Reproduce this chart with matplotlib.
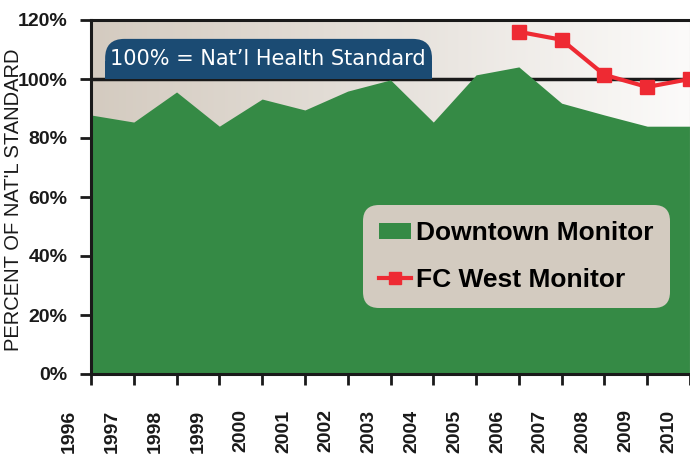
import numpy as np
import matplotlib.pyplot as plt
from matplotlib.patches import Patch, FancyBboxPatch, Rectangle
from matplotlib.lines import Line2D
from matplotlib.colors import LinearSegmentedColormap

# Data (percent of national health standard)
years = [str(y) for y in range(1996, 2011)]
downtown = [87.8, 85.4, 95.6, 84.0, 93.2, 89.5, 95.9, 99.7, 85.4, 101.4,
            104.1, 91.8, 87.8, 84.0, 84.0]
west_years_idx = [10, 11, 12, 13, 14]
west = [116.0, 113.3, 101.4, 97.3, 100.0]
y_ticks = [0, 20, 40, 60, 80, 100, 120]

green = "#358a45"
red = "#ee2a33"
dark = "#1a1a1a"
navy = "#1b4b73"

fig = plt.figure(figsize=(6.9, 4.54), dpi=100)
ax = fig.add_axes([91 / 690, 1 - 374 / 454, 1 - 91 / 690, (374 - 20) / 454])

x = np.arange(len(downtown))

# gradient background, beige on the left fading to white
grad = np.linspace(0, 1, 256).reshape(1, -1)
cmap = LinearSegmentedColormap.from_list("bg", ["#d4cbc0", "#e6e1db", "#fcfbfa"])
ax.imshow(grad, cmap=cmap, aspect="auto", extent=[0, 14, 0, 120], zorder=0)

ax.axhline(100, color=dark, lw=2.5, zorder=1)
ax.fill_between(x, downtown, 0, color=green, lw=0, zorder=2)
ax.plot(west_years_idx, west, color=red, lw=3, marker="s", ms=10,
        mec=red, zorder=4, clip_on=False)

ax.set_xlim(0, 14)
ax.set_ylim(0, 120)

for side in ["left", "bottom", "top"]:
    ax.spines[side].set_linewidth(2.2)
    ax.spines[side].set_color(dark)
ax.spines["right"].set_linewidth(0.8)
ax.spines["right"].set_color("#bbbbbb")

ax.set_yticks(y_ticks)
ax.set_yticklabels([f"{v}%" for v in y_ticks], fontsize=14, fontweight="bold",
                   family="Liberation Sans", color=dark)
ax.set_xticks(np.arange(0, 15))
ax.set_xticklabels([])
ax.tick_params(axis="both", width=2, length=8, color=dark, direction="out")
ax.tick_params(axis="y", pad=9)

# year labels sit half a step left of the ticks
for i, yr in enumerate(years):
    ax.text(i - 0.5, -12, yr, rotation=90, ha="center", va="top",
            fontsize=14, fontweight="bold", family="Liberation Sans",
            color=dark, clip_on=False)

ax.set_ylabel("PERCENT OF NAT'L STANDARD", fontsize=14.5, family="Liberation Sans",
              color=dark)
ax.yaxis.set_label_coords(-0.114, 0.493)

# standard label box: rounded top, flat bottom on the 100% line
box = FancyBboxPatch((0.33, 100), 7.64, 13.6,
                     boxstyle="round,pad=0,rounding_size=0.45",
                     mutation_aspect=42.79 / 2.94,
                     fc=navy, ec="none", zorder=5)
ax.add_patch(box)
ax.add_patch(Rectangle((0.33, 100), 7.64, 6, fc=navy, ec="none", zorder=5))
ax.text(0.44, 106.8, "100% = Nat\u2019l Health Standard", fontsize=15, color="white",
        ha="left", va="center", zorder=6, family="DejaVu Sans")

handles = [Patch(facecolor=green, edgecolor="none"),
           Line2D([0], [0], color=red, lw=3, marker="s", ms=9)]
leg = ax.legend(handles, ["Downtown Monitor", "FC West Monitor"],
                loc="upper left", bbox_to_anchor=(363 / 690, 1 - 205 / 454),
                bbox_transform=fig.transFigure,
                prop={"family": "Liberation Sans", "weight": "bold", "size": 19},
                facecolor="#d3cbc0", edgecolor="none", framealpha=1, fancybox=True,
                handlelength=1.2, handleheight=0.5, handletextpad=0.2,
                labelspacing=0.85, borderpad=0.62, borderaxespad=0)
leg.get_frame().set_boxstyle("round", pad=0, rounding_size=0.6)
leg.set_zorder(6)

fig.savefig("out.png", dpi=100)
